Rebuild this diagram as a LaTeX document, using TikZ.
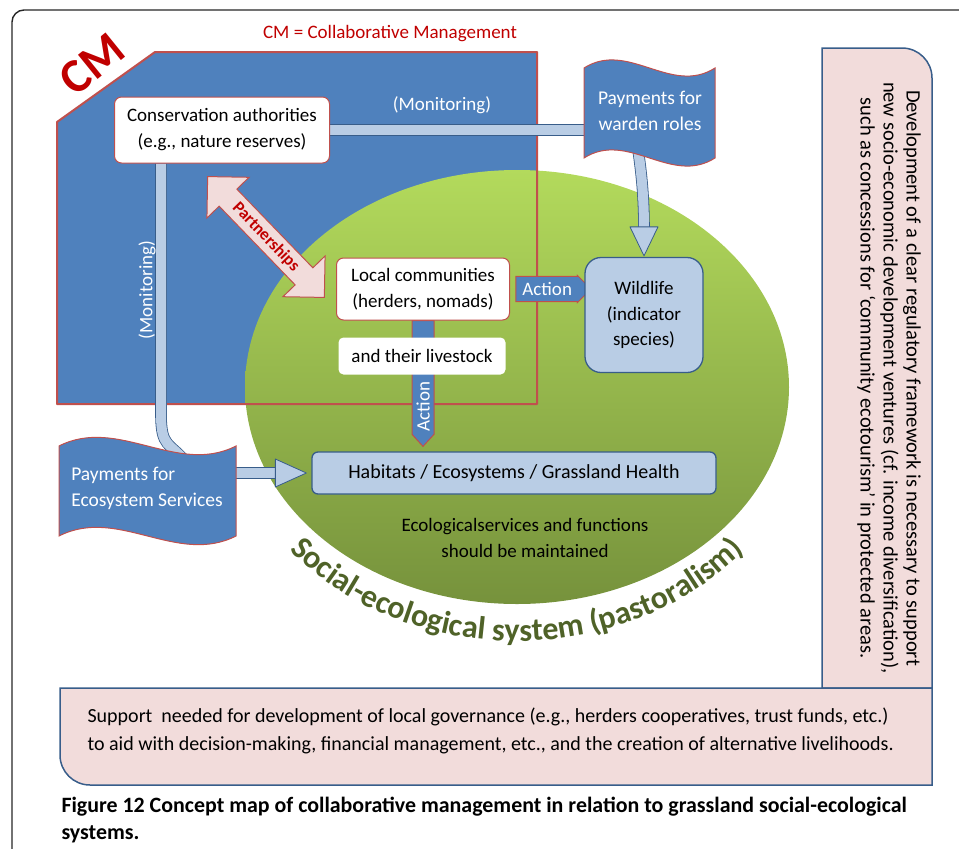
\documentclass[tikz,border=0pt]{standalone}
\usepackage{fontspec}
\setmainfont{Carlito}
\usetikzlibrary{shapes.arrows,decorations.text,calc}

\definecolor{cmblue}{HTML}{4F81BD}
\definecolor{cmred}{HTML}{C0504D}
\definecolor{darkred}{HTML}{C00000}
\definecolor{paleblue}{HTML}{B9CDE5}
\definecolor{edgeblue}{HTML}{385D8A}
\definecolor{palepink}{HTML}{F2DCDB}
\definecolor{grasstop}{HTML}{B3DA5C}
\definecolor{grassbot}{HTML}{76923C}
\definecolor{olive}{HTML}{4F6228}

\pgfdeclarelayer{bg}
\pgfdeclarelayer{links}
\pgfsetlayers{bg,links,main}

\newcommand\arcfont{\fontsize{32}{32}\selectfont\bfseries}

\begin{document}
\begin{tikzpicture}[x=1pt,y=-1pt,
  txt/.style={font=\fontsize{19}{26}\selectfont,align=center},
  box/.style={txt,draw=cmred,fill=white,rounded corners=7pt,line width=1pt},
  bluebox/.style={txt,draw=edgeblue,fill=paleblue,line width=1.3pt},
  flag/.style={fill=cmblue,draw=cmred,line width=1pt},
  flagtext/.style={txt,text=white,font=\fontsize{19.5}{26}\selectfont},
  feed/.style={draw=edgeblue,double=paleblue,double distance=10pt,line width=0.8pt},
  feedhead/.style={fill=paleblue,draw=edgeblue,line width=0.8pt,line join=round},
  act/.style={fill=cmblue,draw=cmred,line width=1pt},
  acttext/.style={text=white,font=\fontsize{19}{19}\selectfont},
  panel/.style={fill=palepink,draw=edgeblue,line width=1.5pt},
  pship/.style={double arrow,draw=cmred,fill=palepink,line width=1pt,
    double arrow head extend=17pt,minimum height=168pt,inner ysep=4.5pt,inner xsep=2pt,
    text=darkred,font=\fontsize{17}{17}\selectfont\bfseries}]

\useasboundingbox (0,0) rectangle (959,849);

% frame, CM area and grassland ellipse
\begin{pgfonlayer}{bg}
\begin{scope}
\clip (0,0) rectangle (959,849);
\draw[line width=1.4pt,draw=black!85,rounded corners=12pt] (12,10) rectangle (1000,900);
\end{scope}
\fill[cmblue] (57,122) -- (155,52) -- (537,52) -- (537,404) -- (57,404) -- cycle;
\shade[top color=grasstop,bottom color=grassbot] (517,387) ellipse [x radius=272,y radius=217];
\draw[cmred,line width=2pt,line join=round] (57,122) -- (155,52) -- (537,52) -- (537,404) -- (57,404) -- cycle;
\path[decorate,decoration={text along path,text color=olive,text align=center,
    text={|\arcfont|Social-ecological system (pastoralism)}}]
  ($(517,387)+(145:297 and 254)$) arc [start angle=145,end angle=35,x radius=297,y radius=254];
\end{pgfonlayer}

\node[text=darkred,font=\fontsize{19}{19}\selectfont] (cmkey) at (390,34) {CM = Collaborative Management};
\node[text=darkred,rotate=39,font=\fontsize{48}{48}\selectfont\bfseries] (cmtag) at (92,64) {CM};

% side panels
\draw[panel] (822,688) -- (822,48) -- (902,48) arc [start angle=-90,end angle=0,radius=30] -- (932,688) -- cycle;
\draw[panel] (60,688) -- (932,688) -- (932,785) -- (90,785) arc [start angle=90,end angle=180,radius=30] -- cycle;
\node[txt,rotate=-90,font=\fontsize{20.5}{23}\selectfont] (rule) at (889,378)
  {Development of a clear regulatory framework is necessary to support\\
   new socio-economic development ventures (cf. income diversification),\\
   such as concessions for ‘community ecotourism’ in protected areas.};
\node[txt,anchor=west,align=left,font=\fontsize{20}{28}\selectfont] (support) at (84,731)
  {Support\ \ needed for development of local governance (e.g., herders cooperatives, trust funds, etc.)\\
   to aid with decision-making, financial management, etc., and the creation of alternative livelihoods.};

% flags
\draw[flag] (584,68) .. controls (628,40) and (671,96) .. (715,68) -- (715,158)
  .. controls (671,186) and (628,130) .. (584,158) -- cycle;
\node[flagtext] (warden) at (650,111) {Payments for\\warden roles};
\draw[flag] (59,446) .. controls (118,416) and (177,476) .. (236,446) -- (236,536)
  .. controls (177,566) and (118,506) .. (59,536) -- cycle;
\node[flagtext,align=left] (eco) at (147,488) {Payments for\\Ecosystem Services};

% boxes
\node[box,minimum width=215,minimum height=66] (cons) at (222,130) {Conservation authorities\\(e.g., nature reserves)};
\node[box,minimum width=173,minimum height=62] (local) at (423,289) {Local communities\\(herders, nomads)};
\node[box,draw=none,rounded corners=5pt,minimum width=167,minimum height=37] (stock) at (422,356) {and their livestock};
\node[bluebox,rounded corners=16pt,minimum width=118,minimum height=115,font=\fontsize{19}{25.5}\selectfont] (wild) at (644,315) {Wildlife\\(indicator\\species)};
\node[bluebox,rounded corners=6pt,minimum width=404,minimum height=42,font=\fontsize{20}{20}\selectfont] (habitat) at (514,473) {Habitats / Ecosystems / Grassland Health};
\node[txt] (ecotext) at (525,538) {Ecologicalservices and functions\\should be maintained};

% links
\begin{pgfonlayer}{links}
\draw[feed] (cons.east) -- (cons.east -| warden.west);
\node[text=white,font=\fontsize{19}{19}\selectfont] (monh) at (442,105) {(Monitoring)};
\draw[feed] ($(cons.south west)+(47,0)$) -- ($(cons.south west)+(47,250)$)
  .. controls ($(cons.south west)+(47,285)$) and ($(eco.north)+(22,-22)$) .. ($(eco.north)+(40,0)$);
\node[text=white,rotate=90,font=\fontsize{19}{19}\selectfont] (monv) at (147,290) {(Monitoring)};
\draw[feed] ($(warden.south)+(-14,0)$) .. controls ($(warden.south)+(-10,30)$) and ($(wild.north)+(0,-70)$) .. ($(wild.north)+(0,-26)$);
\draw[feedhead] ($(wild.north)+(0,-1)$) -- ++(-14,-29) -- ++(28,0) -- cycle;
\draw[feed] (eco.east |- habitat.west) -- ($(habitat.west)+(-34,0)$);
\draw[feedhead] ($(habitat.west)+(-5,0)$) -- ++(-31,-14) -- ++(0,28) -- cycle;
\node[pship,rotate=-46] (partner) at (266,237) {Partnerships};
\node[act,single arrow,single arrow head extend=1pt,minimum height=75pt,inner ysep=5.5pt,inner xsep=3pt,acttext] (acth)
  at ($(local.east)!0.5!(local.east -| wild.west)$) {Action};
\coordinate (acttip) at ($(local.south |- habitat.north)+(0,-5)$);
\draw[act] ($(local.south)+(-11,0)$) -- ($(local.south)+(11,0)$) -- ($(acttip)+(11,-12)$) -- (acttip)
  -- ($(acttip)+(-11,-12)$) -- cycle;
\node[acttext,rotate=90] (actv) at ($(acttip)+(0,-40)$) {Action};
\end{pgfonlayer}

% caption
\node[anchor=north west,align=left,font=\fontsize{21.9}{27}\selectfont\bfseries] (caption) at (58,794)
  {Figure 12 Concept map of collaborative management in relation to grassland social-ecological\\systems.};
\end{tikzpicture}
\end{document}
